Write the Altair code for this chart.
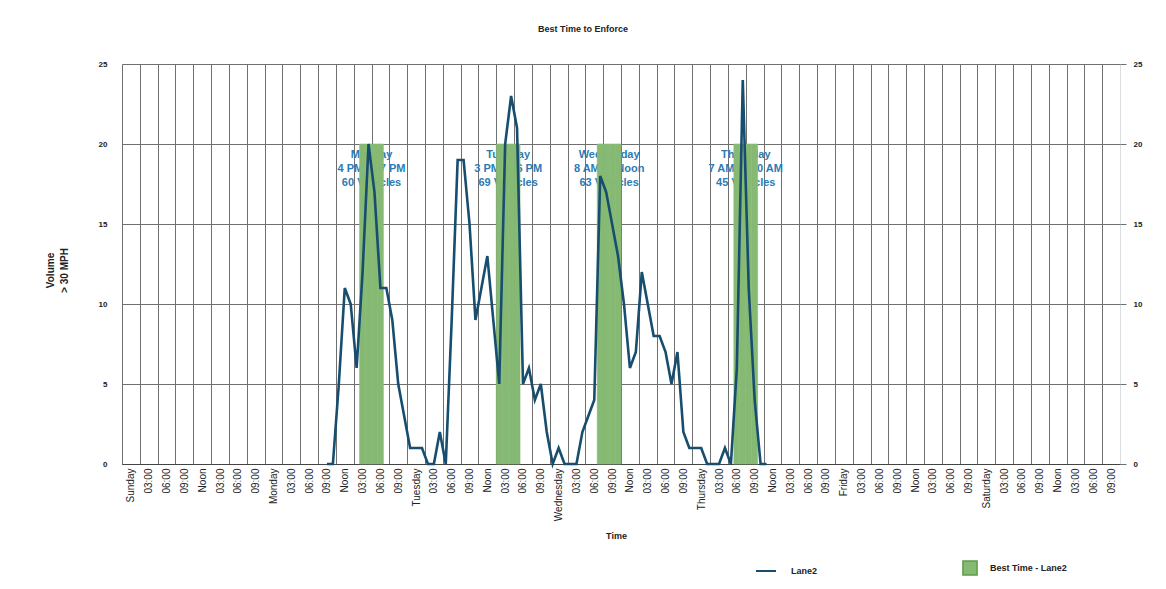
import altair as alt
import pandas as pd

# ---------------- data ----------------
days = ["Sunday", "Monday", "Tuesday", "Wednesday", "Thursday", "Friday", "Saturday"]
day_slots = ["03:00", "06:00", "09:00", "Noon", "03:00", "06:00", "09:00"]
tick_labels = []
for d in days:
    tick_labels += [d] + day_slots

# hourly volume > 30 MPH for Lane2 (hour 0 = Sunday 00:00)
lane2_start_hour = 34
lane2 = [0, 0, 5, 11, 10, 6, 12, 20, 17, 11,
         11, 9, 5, 3, 1, 1, 1, 0, 0, 2,
         0, 9, 19, 19, 15, 9, 11, 13, 9, 5,
         20, 23, 21, 5, 6, 4, 5, 2, 0, 1,
         0, 0, 0, 2, 3, 4, 18, 17, 15, 13,
         10, 6, 7, 12, 10, 8, 8, 7, 5, 7,
         2, 1, 1, 1, 0, 0, 0, 1, 0, 6,
         24, 11, 4, 0, 0]

best_hours = [40, 41, 42, 43, 63, 64, 65, 66, 80, 81, 82, 83, 103, 104, 105, 106]
best_level = 20

ann_day = ["Monday", "Tuesday", "Wednesday", "Thursday"]
ann_window = ["4 PM to 7 PM", "3 PM to 6 PM", "8 AM to Noon", "7 AM to 10 AM"]
ann_vehicles = [60, 69, 63, 45]
ann_first_hour = [40, 63, 80, 103]

# ---------------- styles ----------------
FONT = "Liberation Sans"
GRID = "#6f6f6f"
LINE_COLOR = "#174d6e"
BAR_COLOR = "#86ba74"
TEXT_BLUE = "#2b7bb4"

line_df = pd.DataFrame({
    "hour": list(range(lane2_start_hour, lane2_start_hour + len(lane2))),
    "volume": lane2,
    "series": "Lane2",
})
bar_df = pd.DataFrame({"hour": best_hours, "level": best_level, "series": "Best Time - Lane2"})
ann_df = pd.DataFrame({
    "first": ann_first_hour,
    "label": [f"{d}\n{w}\n{v} Vehicles" for d, w, v in zip(ann_day, ann_window, ann_vehicles)],
    "level": best_level,
})

label_js = "[" + ",".join("'" + t + "'" for t in tick_labels) + "]"

x_scale = alt.Scale(domain=[0, 168], nice=False, zero=False)
y_scale = alt.Scale(domain=[0, 25], nice=False)

x_axis = alt.Axis(
    values=list(range(0, 168, 3)),
    labelExpr=label_js + "[round(datum.value/3)]",
    labelAngle=270,
    labelOffset=8.9,
    labelFlush=False,
    labelOverlap=False,
    labelBound=False,
    labelFont=FONT,
    labelFontSize=10,
    labelColor="#222222",
    labelPadding=4,
    ticks=False,
    grid=True,
    gridColor=GRID,
    gridWidth=1,
    gridOpacity=1,
    domainColor="#444444",
    title="Time",
    titleFont=FONT,
    titleFontSize=9,
    titleFontWeight="bold",
    titleColor="#222222",
    titleX=494,
    titleY=71,
    titleBaseline="middle",
)


def xenc(field):
    return alt.X(field, type="quantitative", scale=x_scale, axis=x_axis)


y_left = alt.Axis(
    orient="left",
    values=[0, 5, 10, 15, 20, 25],
    grid=True,
    gridColor=GRID,
    gridWidth=1,
    gridOpacity=1,
    ticks=False,
    domain=False,
    labelFont=FONT,
    labelFontSize=8,
    labelFontWeight="bold",
    labelColor="#222222",
    labelPadding=15,
    title=["Volume", "> 30 MPH"],
    titleFont=FONT,
    titleFontSize=10,
    titleFontWeight="bold",
    titleColor="#222222",
    titleAngle=270,
    titleX=-72,
    titleY=206,
    titleAlign="center",
    titleBaseline="middle",
    titleLineHeight=14,
)
y_right = alt.Axis(
    orient="right",
    values=[0, 5, 10, 15, 20, 25],
    grid=False,
    tickSize=6,
    tickColor=GRID,
    domain=False,
    labelFont=FONT,
    labelFontSize=8,
    labelFontWeight="bold",
    labelColor="#222222",
    labelPadding=7,
    title=None,
)

text_layer = alt.Chart(ann_df).transform_calculate(cx="datum.first + 2").mark_text(
    lineBreak="\n", align="center", baseline="middle", dy=11, lineHeight=14,
    font=FONT, fontSize=11, fontWeight="bold", color=TEXT_BLUE,
).encode(
    x=xenc("cx"),
    y=alt.Y("level:Q", scale=y_scale, axis=y_left),
    text="label:N",
)

bar_layer = alt.Chart(bar_df).transform_calculate(h1="datum.hour + 1").mark_rect(
    stroke=BAR_COLOR, strokeWidth=0.6,
).encode(
    x=xenc("hour"),
    x2="h1:Q",
    y=alt.Y("level:Q", scale=y_scale, axis=y_right),
    y2=alt.datum(0),
    fill=alt.Fill("series:N", scale=alt.Scale(domain=["Best Time - Lane2"], range=[BAR_COLOR]),
                  legend=alt.Legend(title=None, orient="none", legendX=840, legendY=496,
                                    symbolType="square", symbolSize=200, symbolStrokeColor="#5f9c48",
                                    labelFont=FONT, labelFontSize=9, labelFontWeight="bold",
                                    labelColor="#222222", labelOffset=12, padding=0)),
)

line_layer = alt.Chart(line_df).transform_calculate(hc="datum.hour + 0.5").mark_line(
    strokeWidth=2.6,
).encode(
    x=xenc("hc"),
    y=alt.Y("volume:Q", scale=y_scale, axis=None),
    stroke=alt.Stroke("series:N", scale=alt.Scale(domain=["Lane2"], range=[LINE_COLOR]),
                      legend=alt.Legend(title=None, orient="none", legendX=633, legendY=496,
                                        symbolType="stroke", symbolSize=400, symbolStrokeWidth=2,
                                        labelFont=FONT, labelFontSize=9, labelFontWeight="bold",
                                        labelColor="#222222", labelOffset=14, padding=0)),
)

chart = alt.layer(text_layer, bar_layer, line_layer).resolve_scale(
    y="shared", stroke="independent", fill="independent"
).resolve_axis(y="independent").resolve_legend(
    stroke="independent", fill="independent"
).properties(
    width=998,
    height=400,
    title=alt.TitleParams(text="Best Time to Enforce", font=FONT, fontSize=9, fontWeight="bold",
                          color="#222222", anchor="middle", dx=-38, offset=26),
    autosize=alt.AutoSizeParams(type="none"),
    padding={"left": 114, "top": 56, "right": 30, "bottom": 116},
).configure_view(stroke=GRID, strokeWidth=1).configure(background="white")

chart.save("out.html", embed_options={"renderer": "svg", "actions": False})
